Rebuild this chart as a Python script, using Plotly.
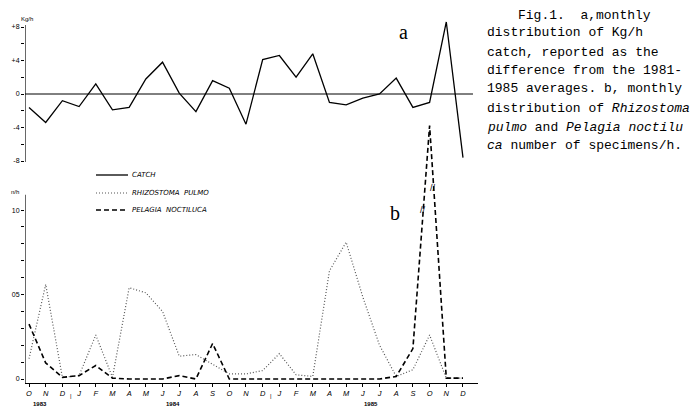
import plotly.graph_objects as go

W, H = 697, 410

# ---- data ----
months = ["O", "N", "D", "J", "F", "M", "A", "M", "J", "J", "A", "S", "O", "N", "D",
          "J", "F", "M", "A", "M", "J", "J", "A", "S", "O", "N", "D"]
years = ["1983", "1984", "1985"]
year_pos = [0.66, 8.6, 20.5]
catch = [-1.6, -3.4, -0.8, -1.5, 1.2, -1.9, -1.6, 1.8, 3.8, 0.1, -2.1, 1.6, 0.7, -3.6,
         4.1, 4.6, 2.0, 4.8, -1.0, -1.3, -0.5, 0.0, 1.9, -1.6, -1.0, 8.6, -7.6]
rhizostoma = [1.2, 5.6, 0.1, 0.2, 2.6, 0.1, 5.4, 5.1, 4.0, 1.35, 1.45, 0.85, 0.3, 0.3,
              0.5, 1.5, 0.25, 0.15, 6.4, 8.1, 4.85, 2.0, 0.15, 0.55, 2.6, 0.05, 0.05]
pelagia = [3.25, 0.95, 0.1, 0.2, 0.8, 0.05, 0, 0, 0, 0.2, 0, 2.1, 0, 0, 0, 0, 0, 0,
           0, 0, 0, 0, 0.15, 1.8, 15.0, 0.05, 0.05]
top_ticks = [-8, -6, -4, -2, 0, 2, 4, 6, 8]
top_labels = ["-8", "", "-4", "", "0", "", "+4", "", "+8"]
bot_ticks = list(range(0, 11))
bot_labels = ["0", "", "", "", "", "05", "", "", "", "", "10"]
caption = ["Fig.1.  a,monthly",
           "distribution of Kg/h",
           "catch, reported as the",
           "difference from the 1981-",
           "1985 averages. b, monthly",
           "distribution of <i>Rhizostoma</i>",
           "<i>pulmo</i> and <i>Pelagia noctilu</i>",
           "<i>ca</i> number of specimens/h."]

idx = list(range(len(months)))


def px(x):
    return x / W


def py(y):
    return 1 - y / H


fig = go.Figure()
fig.add_trace(go.Scatter(x=idx, y=catch, mode="lines", xaxis="x", yaxis="y",
                         line=dict(color="black", width=1.3), showlegend=False))
fig.add_trace(go.Scatter(x=idx, y=rhizostoma, mode="lines", xaxis="x2", yaxis="y2",
                         line=dict(color="#555555", width=1.2, dash="1px,2px"), showlegend=False))
fig.add_trace(go.Scatter(x=idx, y=pelagia, mode="lines", xaxis="x2", yaxis="y2",
                         line=dict(color="black", width=1.6, dash="5px,3px"), showlegend=False))

xr = [-0.24, 26.9]
xdom = [px(25), px(478)]
tickfont = dict(family="Liberation Sans", size=7, color="black")

fig.update_layout(
    width=W, height=H, margin=dict(l=0, r=0, t=0, b=0),
    paper_bgcolor="white", plot_bgcolor="rgba(0,0,0,0)",
    xaxis=dict(domain=xdom, range=xr, visible=False, anchor="y"),
    yaxis=dict(domain=[py(166), py(20)], range=[-8.597, 8.836], anchor="x",
               tickvals=top_ticks, ticktext=top_labels, ticks="outside", ticklen=3,
               tickwidth=1, tickcolor="black", showgrid=False, zeroline=False,
               showline=False, tickfont=tickfont),
    xaxis2=dict(domain=xdom, range=xr, anchor="y2", tickvals=idx, ticktext=months,
                ticks="outside", ticklen=3, tickwidth=1, tickcolor="black",
                showline=True, linecolor="black", linewidth=1.2, showgrid=False,
                zeroline=False,
                tickfont=dict(family="Liberation Sans", size=7.5, color="black", style="italic")),
    yaxis2=dict(domain=[py(383), py(120)], range=[-0.237, 15.33], anchor="x2",
                tickvals=bot_ticks, ticktext=bot_labels, ticks="outside", ticklen=3,
                tickwidth=1, tickcolor="black", showgrid=False, zeroline=False,
                showline=False, tickfont=tickfont),
)

shapes = []
# top y-axis line and zero line
shapes.append(dict(type="line", xref="x", yref="y", x0=-0.24, x1=-0.24, y0=-8.12, y1=8.24,
                   line=dict(color="black", width=1.2)))
shapes.append(dict(type="line", xref="x", yref="y", x0=-0.24, x1=26.6, y0=0, y1=0,
                   line=dict(color="black", width=1)))
# bottom y-axis line
shapes.append(dict(type="line", xref="x2", yref="y2", x0=-0.24, x1=-0.24, y0=-0.237, y1=10.9,
                   line=dict(color="black", width=1.2)))
# legend lines
leg_y = [175, 193, 210]
leg_style = [dict(color="black", width=1.3),
             dict(color="#555555", width=1.2, dash="1px,2px"),
             dict(color="black", width=1.6, dash="5px,3px")]
for yy, st in zip(leg_y, leg_style):
    shapes.append(dict(type="line", xref="paper", yref="paper", x0=px(96), x1=px(128),
                       y0=py(yy), y1=py(yy), line=st))
fig.update_layout(shapes=shapes)

ann = []
leg_text = ["CATCH", "RHIZOSTOMA  PULMO", "PELAGIA  NOCTILUCA"]
for yy, t in zip(leg_y, leg_text):
    ann.append(dict(x=px(130), y=py(yy), xref="paper", yref="paper", text=t, showarrow=False,
                    xanchor="left", yanchor="middle",
                    font=dict(family="DejaVu Sans", size=7, color="black", style="italic")))
# panel letters
ann.append(dict(x=px(403), y=py(32), xref="paper", yref="paper", text="a", showarrow=False,
                xanchor="center", yanchor="middle",
                font=dict(family="Liberation Serif", size=20, color="black")))
ann.append(dict(x=px(395), y=py(213), xref="paper", yref="paper", text="b", showarrow=False,
                xanchor="center", yanchor="middle",
                font=dict(family="Liberation Serif", size=20, color="black")))
# axis units
ann.append(dict(x=px(27), y=py(19), xref="paper", yref="paper", text="Kg/h", showarrow=False,
                xanchor="center", yanchor="middle",
                font=dict(family="Liberation Sans", size=6, color="black")))
ann.append(dict(x=px(15), y=py(192), xref="paper", yref="paper", text="n/h", showarrow=False,
                xanchor="center", yanchor="middle",
                font=dict(family="Liberation Sans", size=6, color="black")))
# year labels
for yr, xp in zip(years, year_pos):
    ann.append(dict(x=xp, y=py(404), xref="x2", yref="paper", text=yr, showarrow=False,
                    xanchor="center", yanchor="middle",
                    font=dict(family="Liberation Sans", size=6, color="black", weight="bold")))
# year separators
for xs in [2.5, 14.5]:
    ann.append(dict(x=xs, y=py(396), xref="x2", yref="paper", text="|", showarrow=False,
                    xanchor="center", yanchor="middle",
                    font=dict(family="Liberation Sans", size=6, color="black")))
# axis-break marks on the Pelagia peak
for xb, yb in [(23.6, 10.0), (24.2, 11.3)]:
    ann.append(dict(x=xb, y=yb, xref="x2", yref="y2", text="//", showarrow=False,
                    xanchor="center", yanchor="middle",
                    font=dict(family="Liberation Sans", size=9, color="black")))
# caption
cap_y = [15, 33, 52, 71, 89, 108, 127, 145]
for i, (t, yy) in enumerate(zip(caption, cap_y)):
    ann.append(dict(x=px(516 if i == 0 else 485), y=py(yy), xref="paper", yref="paper",
                    text=t, showarrow=False, xanchor="left", yanchor="middle",
                    font=dict(family="Liberation Mono", size=13, color="black")))
fig.update_layout(annotations=ann)

fig.write_html("out.html", config={"displayModeBar": False},
               post_script="document.body.style.margin='0';")
